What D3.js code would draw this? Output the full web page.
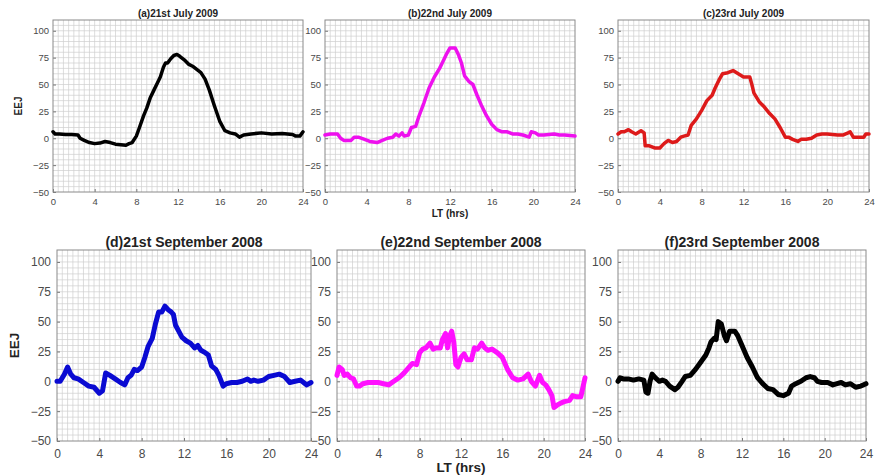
<!DOCTYPE html>
<html>
<head>
<meta charset="utf-8">
<script src="https://cdn.jsdelivr.net/npm/d3@7"></script>
<style>
  body { margin: 0; background: #fff; }
  text { font-family: "Liberation Sans", Arial, Helvetica, sans-serif; }
</style>
</head>
<body>
<script>
// Tick labels shared by every panel
var xTicks = [0, 4, 8, 12, 16, 20, 24];
var yTicks = [-50, -25, 0, 25, 50, 75, 100];

// Panel titles
var titles = ["(a)21st July 2009", "(b)22nd July 2009", "(c)23rd July 2009",
  "(d)21st September 2008", "(e)22nd September 2008", "(f)23rd September 2008"];

// (a) 21 July 2009
var hoursA = [0, 0.2, 0.6, 1.2, 1.8, 2.4, 2.6, 3, 3.5, 4, 4.5, 5, 5.5, 6, 6.5, 7, 7.3, 7.6, 8, 8.3, 8.7,
  9, 9.35, 9.7, 10, 10.3, 10.6, 10.8, 11, 11.3, 11.6, 11.9, 12.2, 12.6, 13, 13.4, 13.8, 14.2, 14.6,
  15, 15.5, 16, 16.5, 17, 17.5, 17.9, 18.3, 19, 20, 21, 22, 22.5, 23, 23.3, 23.7, 24];
var eejA = [6, 4, 4, 3.5, 3.5, 3, 0, -2, -4, -5, -4.5, -3, -4, -5.5, -6, -6.5, -5, -4, 2, 10, 21,
  28, 38, 45, 51, 57, 66, 70, 70, 74, 77, 78, 76, 73, 69, 67, 64, 61, 55,
  45, 30, 16, 7, 5, 4, 1, 3, 4, 5, 4, 4.5, 4, 3.5, 2, 2, 6];

// (b) 22 July 2009
var hoursB = [0, 0.5, 1.2, 1.5, 1.8, 2.5, 2.8, 3.2, 3.8, 4.3, 5, 5.5, 6, 6.5, 6.8, 7.1, 7.4, 7.6, 8, 8.3,
  8.7, 9, 9.5, 10, 10.5, 11, 11.3, 11.7, 12, 12.5, 12.8, 13.1, 13.4, 13.8, 14.2, 14.6, 15, 15.5, 16,
  16.5, 17, 17.5, 18, 18.5, 19, 19.6, 19.8, 20.2, 20.5, 21, 22, 22.5, 23, 24];
var eejB = [3, 4, 4, 0, -2, -2, 1, 1, -1, -3, -4, -2, 0, 1, 4, 2, 5, 2, 3, 10,
  11, 20, 33, 47, 57, 65, 71, 79, 84, 84, 78, 70, 58, 53, 50, 40, 31, 21, 13,
  8, 6, 6, 4, 4, 3, 1, 6, 5, 3, 3, 4, 3, 3, 2];

// (c) 23 July 2009
var hoursC = [0, 0.3, 0.6, 1, 1.3, 1.7, 2.2, 2.5, 2.6, 3, 3.5, 4, 4.4, 4.8, 5.2, 5.6, 6, 6.3, 6.7, 7,
  7.5, 8, 8.5, 9, 9.3, 9.7, 10, 10.5, 11, 11.5, 12, 12.6, 12.8, 13, 13.5, 14, 14.5, 15, 15.5, 16,
  16.3, 16.7, 17.2, 17.5, 18, 18.5, 19, 19.5, 20, 21, 21.5, 22, 22.2, 22.5, 23, 23.5, 23.7, 24];
var eejC = [4, 6, 6, 8, 6, 4, 7, 5, -7, -7, -9, -9, -5, -2, -4, -3, 1, 2, 3, 12,
  18, 26, 35, 40, 47, 55, 60, 61, 63, 60, 57, 57, 50, 42, 34, 29, 23, 18, 10, 1,
  1, -1, -3, -1, -1, 0, 3, 4, 4, 3, 3, 5, 6, 1, 1, 1, 4, 4];

// (d) 21 September 2008
var hoursD = [0, 0.3, 0.7, 1, 1.3, 1.6, 2, 2.5, 3, 3.5, 4, 4.3, 4.6, 5, 5.5, 6, 6.4, 6.7, 7, 7.3,
  7.6, 8, 8.3, 8.6, 9, 9.3, 9.6, 9.9, 10.2, 10.5, 10.8, 11, 11.2, 11.5, 11.8, 12.2, 12.6, 13, 13.3,
  13.6, 14, 14.3, 14.6, 15, 15.3, 15.7, 16, 16.5, 17, 17.5, 18, 18.3, 18.6, 19, 19.5, 20, 20.5,
  21, 21.5, 22, 22.5, 23, 23.3, 23.6, 24];
var eejD = [0, 0, 6, 12, 6, 3, 2, -1, -4, -5, -10, -8, 7, 5, 2, -1, -3, 3, 5, 10,
  9, 12, 20, 29, 36, 48, 58, 58, 63, 60, 58, 56, 47, 42, 37, 34, 32, 28, 30,
  26, 24, 22, 13, 10, 5, -4, -2, -1, -1, 0, 2, 0, 1, 0, 1, 4, 5,
  6, 4, -1, 0, 1, -1, -3, -1];

// (e) 22 September 2008
var hoursE = [0, 0.2, 0.5, 0.7, 1, 1.3, 1.6, 1.9, 2.2, 2.5, 3, 3.5, 4, 4.5, 5, 5.5, 6, 6.5, 7, 7.3,
  7.7, 8, 8.3, 8.6, 9, 9.3, 9.6, 10, 10.2, 10.5, 10.7, 10.9, 11.1, 11.3, 11.5, 11.7, 12, 12.3,
  12.6, 13, 13.3, 13.6, 14, 14.3, 14.6, 15, 15.5, 16, 16.5, 17, 17.5, 18, 18.5, 18.8, 19.2, 19.6,
  19.9, 20.2, 20.5, 20.8, 21, 21.3, 21.7, 22, 22.5, 22.8, 23.2, 23.6, 23.8, 24];
var eejE = [5, 12, 10, 5, 6, 3, 2, -4, -4, -2, -1, -1, -1, -2, -3, 0, 3, 7, 12, 15,
  14, 24, 27, 28, 32, 27, 28, 28, 35, 40, 28, 38, 42, 33, 14, 12, 20, 23,
  18, 18, 28, 27, 32, 28, 26, 27, 24, 20, 10, 3, 1, 2, 6, 0, -4, 5,
  -1, -3, -7, -12, -22, -20, -18, -17, -16, -12, -13, -13, -5, 3];

// (f) 23 September 2008
var hoursF = [0, 0.2, 0.5, 1, 1.5, 2, 2.5, 2.7, 2.9, 3.1, 3.3, 3.6, 4, 4.3, 4.6, 5, 5.5, 5.8, 6.2,
  6.5, 7, 7.5, 8, 8.5, 8.8, 9, 9.3, 9.5, 9.7, 10, 10.3, 10.5, 10.8, 11.3, 11.6, 12, 12.5, 13, 13.5,
  14, 14.5, 15, 15.5, 16, 16.5, 16.8, 17.2, 17.7, 18.2, 18.6, 19, 19.3, 19.7, 20.3, 20.8, 21.2,
  21.6, 22, 22.5, 23, 23.5, 24];
var eejF = [0, 3, 2, 2, 1, 2, 1, -9, -10, 0, 6, 3, 0, 1, 0, -4, -7, -5, 0,
  4, 5, 10, 16, 22, 28, 33, 36, 35, 50, 48, 38, 34, 42, 42, 38, 30, 20, 12, 3,
  -2, -6, -7, -11, -12, -10, -4, -2, 0, 3, 4, 3, 0, -1, -1, -3, -2,
  -1, -3, -2, -5, -4, -2];

var svg = d3.select("body").append("svg")
  .attr("width", 875)
  .attr("height", 475);

// Panel boxes (pixel frames) and styling for the two rows
var panels = [
  { t: hoursA, v: eejA, color: "#000000", box: [53, 303, 20, 192], row: 0 },
  { t: hoursB, v: eejB, color: "#ee10ee", box: [325, 575, 20, 192], row: 0 },
  { t: hoursC, v: eejC, color: "#dd1a1a", box: [618, 869, 20, 192], row: 0 },
  { t: hoursD, v: eejD, color: "#0a0ad2", box: [57, 311, 250, 441], row: 1 },
  { t: hoursE, v: eejE, color: "#ff10ff", box: [337, 585, 250, 441], row: 1 },
  { t: hoursF, v: eejF, color: "#000000", box: [618, 866, 250, 441], row: 1 }
];
var rowStyle = [
  { title: 10, tick: 9.5, label: 10, lw: 3.5, titleY: 17, yPad: 4, xPad: 6, ltY: 217 },
  { title: 14, tick: 12, label: 13.5, lw: 5, titleY: 247, yPad: 6, xPad: 8, ltY: 472 }
];

panels.forEach(function(p, i) {
  var st = rowStyle[p.row];
  var b = p.box;
  var x = d3.scaleLinear().domain([0, 24]).range([b[0], b[1]]);
  var y = d3.scaleLinear().domain([-50, 110]).range([b[3], b[2]]);
  var g = svg.append("g");

  g.append("rect")
    .attr("x", b[0]).attr("y", b[2])
    .attr("width", b[1] - b[0]).attr("height", b[3] - b[2])
    .attr("fill", "#fff");

  // minor grid: every half hour, every 5 units
  g.selectAll(".gx").data(d3.range(0.5, 24, 0.5)).enter().append("line")
    .attr("x1", d => x(d)).attr("x2", d => x(d))
    .attr("y1", b[2]).attr("y2", b[3])
    .attr("stroke", "#cfcfcf").attr("stroke-width", 0.7);
  g.selectAll(".gy").data(d3.range(-45, 110, 5)).enter().append("line")
    .attr("y1", d => y(d)).attr("y2", d => y(d))
    .attr("x1", b[0]).attr("x2", b[1])
    .attr("stroke", "#cfcfcf").attr("stroke-width", 0.7);

  // axes with inward ticks
  var xAxis = d3.axisBottom(x).tickValues(xTicks).tickSize(-3).tickPadding(st.xPad);
  var yAxis = d3.axisLeft(y).tickValues(yTicks).tickSize(-3).tickPadding(st.yPad);
  var gx = g.append("g").attr("transform", "translate(0," + b[3] + ")").call(xAxis);
  var gy = g.append("g").attr("transform", "translate(" + b[0] + ",0)").call(yAxis);
  [gx, gy].forEach(function(a) {
    a.select(".domain").remove();
    a.selectAll(".tick line").attr("stroke", "#777");
    a.selectAll(".tick text").attr("fill", "#4a4a4a")
      .style("font-size", st.tick + "px");
  });

  g.append("rect")
    .attr("x", b[0]).attr("y", b[2])
    .attr("width", b[1] - b[0]).attr("height", b[3] - b[2])
    .attr("fill", "none").attr("stroke", "#8a8a8a").attr("stroke-width", 1);

  var line = d3.line()
    .x((d, k) => x(p.t[k]))
    .y(d => y(d));
  g.append("path")
    .attr("d", line(p.v))
    .attr("fill", "none")
    .attr("stroke", p.color)
    .attr("stroke-width", st.lw)
    .attr("stroke-linejoin", "round")
    .attr("stroke-linecap", "round");

  g.append("text")
    .attr("x", (b[0] + b[1]) / 2).attr("y", st.titleY)
    .attr("text-anchor", "middle")
    .style("font-size", st.title + "px").style("font-weight", "bold")
    .attr("fill", "#222")
    .text(titles[i]);

  if (i % 3 === 0) {
    var lx = p.row === 0 ? 22 : 19;
    g.append("text")
      .attr("transform", "translate(" + lx + "," + ((b[2] + b[3]) / 2) + ") rotate(-90)")
      .attr("text-anchor", "middle")
      .style("font-size", st.label + "px").style("font-weight", "bold")
      .attr("fill", "#222")
      .text("EEJ");
  }
  if (i % 3 === 1) {
    g.append("text")
      .attr("x", (b[0] + b[1]) / 2).attr("y", st.ltY)
      .attr("text-anchor", "middle")
      .style("font-size", st.label + "px").style("font-weight", "bold")
      .attr("fill", "#222")
      .text("LT (hrs)");
  }
});
</script>
</body>
</html>
